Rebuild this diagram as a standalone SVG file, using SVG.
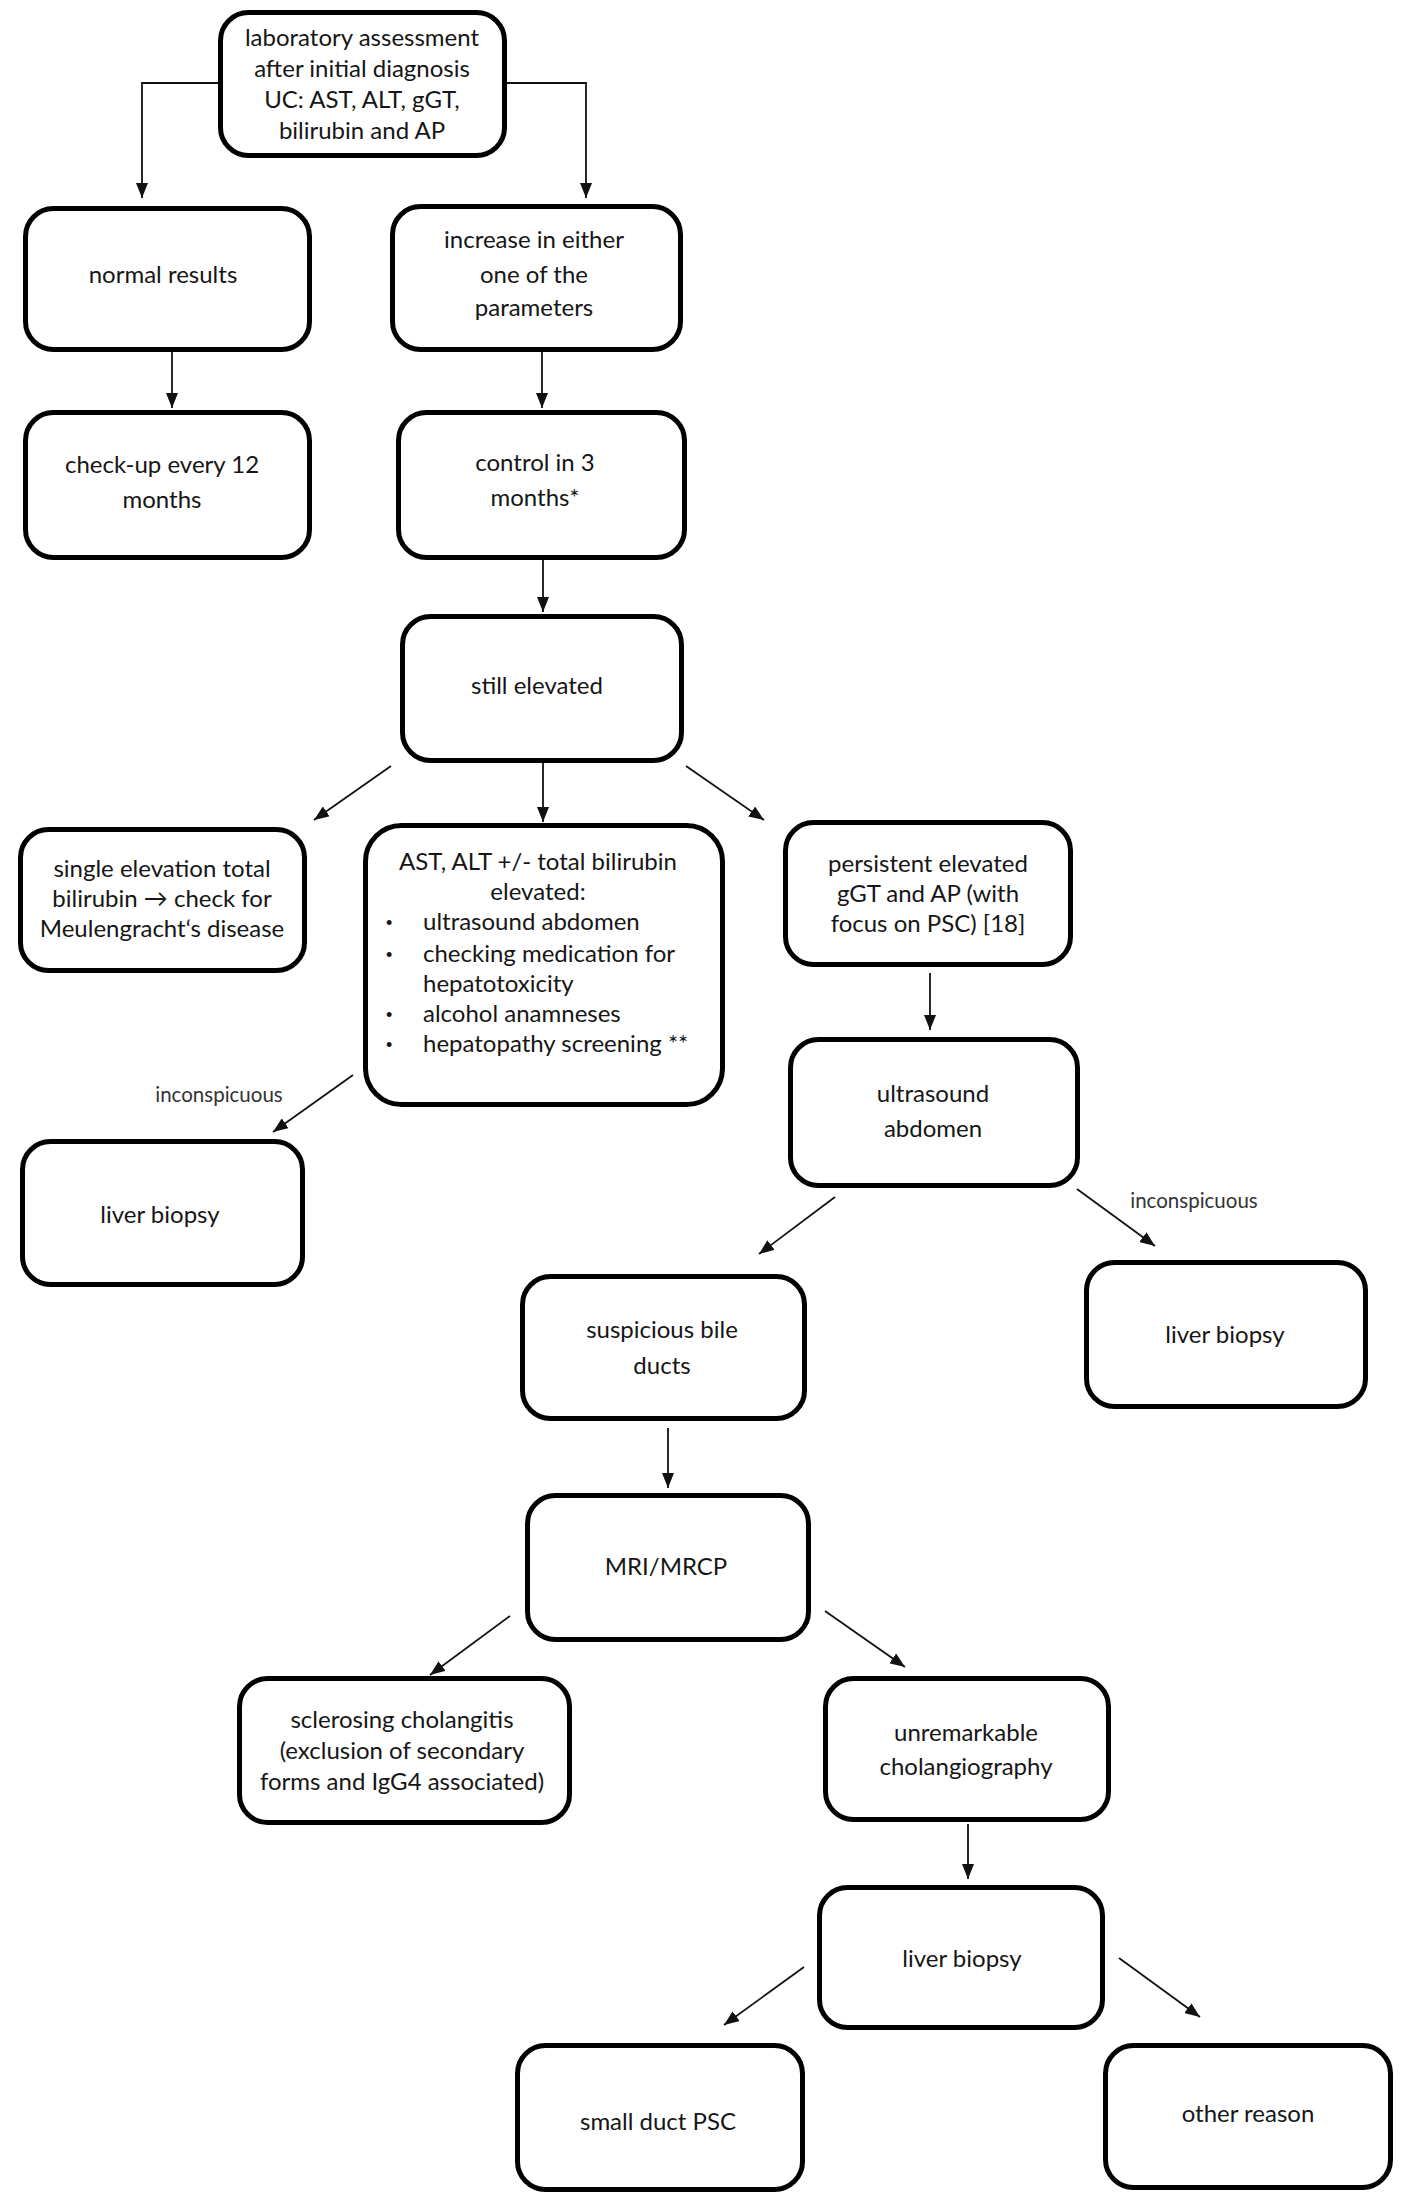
<svg xmlns="http://www.w3.org/2000/svg" width="1418" height="2208" viewBox="0 0 1418 2208">
<defs>
<marker id="ah" markerUnits="userSpaceOnUse" markerWidth="15" markerHeight="12" refX="15" refY="6" orient="auto">
<path d="M0,0 L15,6 L0,12 z" fill="#111"/>
</marker>
<style>
.box{fill:#fff;stroke:#000;stroke-width:5}
.t{font-family:Lato,"Liberation Sans",sans-serif;font-size:24px;fill:#161616;text-anchor:middle}
.tl{font-family:Lato,"Liberation Sans",sans-serif;font-size:24px;fill:#161616}
.b{font-family:"Liberation Sans",sans-serif;font-size:18px;fill:#161616}
.lbl{font-family:Lato,"Liberation Sans",sans-serif;font-size:20.5px;fill:#333;text-anchor:middle}
.c{fill:none;stroke:#111;stroke-width:1.8;marker-end:url(#ah)}
</style>
</defs>
<rect width="1418" height="2208" fill="#fff"/>
<g id="connectors">
<polyline class="c" points="218,83 142,83 142,198"/>
<polyline class="c" points="507,83 586,83 586,198"/>
<line class="c" x1="172" y1="352" x2="172" y2="408"/>
<line class="c" x1="542" y1="352" x2="542" y2="408"/>
<line class="c" x1="543" y1="560" x2="543" y2="612"/>
<line class="c" x1="391" y1="766" x2="314" y2="820"/>
<line class="c" x1="543" y1="763" x2="543" y2="822"/>
<line class="c" x1="686" y1="766" x2="764" y2="820"/>
<line class="c" x1="353" y1="1075" x2="273" y2="1132"/>
<line class="c" x1="930" y1="973" x2="930" y2="1030"/>
<line class="c" x1="835" y1="1197" x2="759" y2="1254"/>
<line class="c" x1="1077" y1="1189" x2="1155" y2="1246"/>
<line class="c" x1="668" y1="1428" x2="668" y2="1488"/>
<line class="c" x1="510" y1="1616" x2="430" y2="1675"/>
<line class="c" x1="825" y1="1611" x2="905" y2="1667"/>
<line class="c" x1="968" y1="1824" x2="968" y2="1879"/>
<line class="c" x1="804" y1="1967" x2="724" y2="2025"/>
<line class="c" x1="1119" y1="1958" x2="1200" y2="2017"/>
</g>
<g id="labels">
<text class="lbl" x="219" y="1102">inconspicuous</text>
<text class="lbl" x="1194" y="1208">inconspicuous</text>
</g>
<g id="n-top"><rect class="box" x="220.5" y="12.5" width="284" height="143" rx="28"/>
<text class="t" x="362" y="46">laboratory assessment</text>
<text class="t" x="362" y="77">after initial diagnosis</text>
<text class="t" x="362" y="108">UC: AST, ALT, gGT,</text>
<text class="t" x="362" y="139">bilirubin and AP</text></g>
<g id="n-normal"><rect class="box" x="25.5" y="208.5" width="284" height="141" rx="28"/>
<text class="t" x="163" y="283">normal results</text></g>
<g id="n-increase"><rect class="box" x="392.5" y="206.5" width="288" height="143" rx="28"/>
<text class="t" x="534" y="248">increase in either</text>
<text class="t" x="534" y="283">one of the</text>
<text class="t" x="534" y="316">parameters</text></g>
<g id="n-checkup"><rect class="box" x="25.5" y="412.5" width="284" height="145" rx="28"/>
<text class="t" x="162" y="473">check-up every 12</text>
<text class="t" x="162" y="508">months</text></g>
<g id="n-control"><rect class="box" x="398.5" y="412.5" width="286" height="145" rx="28"/>
<text class="t" x="535" y="471">control in 3</text>
<text class="t" x="535" y="506">months*</text></g>
<g id="n-still"><rect class="box" x="402.5" y="616.5" width="279" height="144" rx="28"/>
<text class="t" x="537" y="694">still elevated</text></g>
<g id="n-single"><rect class="box" x="20.5" y="829.5" width="284" height="141" rx="28"/>
<text class="t" x="162" y="877">single elevation total</text>
<text class="t" x="162" y="907">bilirubin → check for</text>
<text class="t" x="162" y="937">Meulengracht‘s disease</text></g>
<g id="n-ast"><rect class="box" x="365.5" y="825.5" width="357" height="279" rx="36"/>
<text class="t" x="538" y="870">AST, ALT +/- total bilirubin</text>
<text class="t" x="538" y="900">elevated:</text>
<text class="b" x="386" y="929">•</text><text class="tl" x="423" y="930">ultrasound abdomen</text>
<text class="b" x="386" y="961">•</text><text class="tl" x="423" y="962">checking medication for</text>
<text class="tl" x="423" y="992">hepatotoxicity</text>
<text class="b" x="386" y="1021">•</text><text class="tl" x="423" y="1022">alcohol anamneses</text>
<text class="b" x="386" y="1051">•</text><text class="tl" x="423" y="1052">hepatopathy screening **</text></g>
<g id="n-persistent"><rect class="box" x="785.5" y="822.5" width="285" height="142" rx="28"/>
<text class="t" x="928" y="872">persistent elevated</text>
<text class="t" x="928" y="902">gGT and AP (with</text>
<text class="t" x="928" y="932">focus on PSC) [18]</text></g>
<g id="n-ultrasound"><rect class="box" x="790.5" y="1039.5" width="287" height="146" rx="28"/>
<text class="t" x="933" y="1102">ultrasound</text>
<text class="t" x="933" y="1137">abdomen</text></g>
<g id="n-liver1"><rect class="box" x="22.5" y="1141.5" width="280" height="143" rx="28"/>
<text class="t" x="160" y="1223">liver biopsy</text></g>
<g id="n-suspicious"><rect class="box" x="522.5" y="1276.5" width="282" height="142" rx="28"/>
<text class="t" x="662" y="1338">suspicious bile</text>
<text class="t" x="662" y="1374">ducts</text></g>
<g id="n-liver2"><rect class="box" x="1086.5" y="1262.5" width="279" height="144" rx="28"/>
<text class="t" x="1225" y="1343">liver biopsy</text></g>
<g id="n-mri"><rect class="box" x="527.5" y="1495.5" width="281" height="144" rx="28"/>
<text class="t" x="666" y="1575">MRI/MRCP</text></g>
<g id="n-sclerosing"><rect class="box" x="239.5" y="1678.5" width="330" height="144" rx="28"/>
<text class="t" x="402" y="1728">sclerosing cholangitis</text>
<text class="t" x="402" y="1759">(exclusion of secondary</text>
<text class="t" x="402" y="1790">forms and IgG4 associated)</text></g>
<g id="n-unremarkable"><rect class="box" x="825.5" y="1678.5" width="283" height="141" rx="28"/>
<text class="t" x="966" y="1741">unremarkable</text>
<text class="t" x="966" y="1775">cholangiography</text></g>
<g id="n-liver3"><rect class="box" x="819.5" y="1887.5" width="283" height="140" rx="28"/>
<text class="t" x="962" y="1967">liver biopsy</text></g>
<g id="n-small"><rect class="box" x="517.5" y="2045.5" width="285" height="144" rx="28"/>
<text class="t" x="658" y="2130">small duct PSC</text></g>
<g id="n-other"><rect class="box" x="1105.5" y="2045.5" width="285" height="142" rx="28"/>
<text class="t" x="1248" y="2122">other reason</text></g>
</svg>
